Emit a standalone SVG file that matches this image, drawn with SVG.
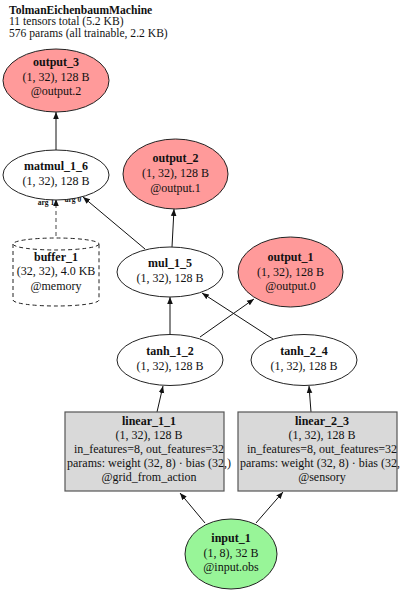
<svg xmlns="http://www.w3.org/2000/svg" width="400" height="592" viewBox="0 0 400 592">
<style>
text{font-family:"Liberation Serif","DejaVu Serif",serif;font-size:12px;fill:#111;text-anchor:middle}
.b{font-weight:bold}
.t{text-anchor:start;font-size:11.6px}
.lbl{font-size:7.5px;font-weight:bold}
.out{fill:#ff9a9a;stroke:#222;stroke-width:1}
.op{fill:#fff;stroke:#222;stroke-width:1}
.lin{fill:#d9d9d9;stroke:#555;stroke-width:1.2}
.inp{fill:#98f598;stroke:#222;stroke-width:1}
.e{stroke:#111;stroke-width:1;fill:none;marker-end:url(#ah)}
.d{stroke:#666;stroke-width:1.2;fill:none;stroke-dasharray:4,3;marker-end:url(#ah)}
</style>
<defs>
<marker id="ah" viewBox="0 0 10 10" refX="10" refY="5" markerWidth="7" markerHeight="7" markerUnits="userSpaceOnUse" orient="auto">
<path d="M0,1 L10,5 L0,9 Z" fill="#111"/>
</marker>
</defs>
<rect width="400" height="592" fill="#fff"/>
<g id="title">
<text class="t b" x="9" y="13.5">TolmanEichenbaumMachine</text>
<text class="t" x="9" y="25">11 tensors total (5.2 KB)</text>
<text class="t" x="9" y="36.5">576 params (all trainable, 2.2 KB)</text>
</g>
<g id="connectors">
<line class="e" x1="56" y1="150" x2="56" y2="112"/>
<line class="d" x1="56" y1="243" x2="56" y2="199"/>
<line class="e" x1="145" y1="249" x2="83" y2="197"/>
<line class="e" x1="172" y1="247" x2="174" y2="209"/>
<line class="e" x1="170" y1="334" x2="170" y2="297"/>
<line class="e" x1="200" y1="337" x2="254" y2="299"/>
<line class="e" x1="273" y1="339" x2="202" y2="293"/>
<line class="e" x1="157" y1="412" x2="163" y2="386"/>
<line class="e" x1="311" y1="412" x2="309" y2="386"/>
<line class="e" x1="205" y1="523" x2="180" y2="493"/>
<line class="e" x1="256" y1="523" x2="283" y2="492"/>
<text class="lbl" x="46" y="205">arg 1</text>
<text class="lbl" x="73" y="202">arg 0</text>
</g>
<g id="output_3">
<ellipse class="out" cx="56" cy="80.5" rx="53" ry="31.5"/>
<text class="b" x="56" y="66">output_3</text>
<text x="56" y="81">(1, 32), 128 B</text>
<text x="56" y="95">@output.2</text>
</g>
<g id="matmul_1_6">
<ellipse class="op" cx="56" cy="175" rx="53" ry="25"/>
<text class="b" x="56" y="170">matmul_1_6</text>
<text x="56" y="185">(1, 32), 128 B</text>
</g>
<g id="buffer_1">
<path d="M13,244 L13,300 A43,6 0 0 0 99,300 L99,244" fill="#fff" stroke="#222" stroke-dasharray="4,3"/>
<ellipse cx="56" cy="244" rx="43" ry="6" fill="#fff" stroke="#222" stroke-dasharray="4,3"/>
<text class="b" x="56" y="261">buffer_1</text>
<text x="56" y="275">(32, 32), 4.0 KB</text>
<text x="56" y="290">@memory</text>
</g>
<g id="output_2">
<ellipse class="out" cx="175.5" cy="174" rx="52.5" ry="35"/>
<text class="b" x="175.5" y="162">output_2</text>
<text x="175.5" y="177">(1, 32), 128 B</text>
<text x="175.5" y="192">@output.1</text>
</g>
<g id="mul_1_5">
<ellipse class="op" cx="170" cy="272" rx="53" ry="25"/>
<text class="b" x="170" y="267">mul_1_5</text>
<text x="170" y="282">(1, 32), 128 B</text>
</g>
<g id="output_1">
<ellipse class="out" cx="290.5" cy="272" rx="52.5" ry="35"/>
<text class="b" x="290.5" y="261">output_1</text>
<text x="290.5" y="276">(1, 32), 128 B</text>
<text x="290.5" y="290">@output.0</text>
</g>
<g id="tanh_1_2">
<ellipse class="op" cx="170" cy="360" rx="53" ry="25.5"/>
<text class="b" x="170" y="355">tanh_1_2</text>
<text x="170" y="370">(1, 32), 128 B</text>
</g>
<g id="tanh_2_4">
<ellipse class="op" cx="304" cy="360" rx="53" ry="25.5"/>
<text class="b" x="304" y="355">tanh_2_4</text>
<text x="304" y="370">(1, 32), 128 B</text>
</g>
<g id="linear_1_1">
<rect class="lin" x="65" y="412" width="159" height="79"/>
<text class="b" x="149" y="425">linear_1_1</text>
<text x="149" y="439">(1, 32), 128 B</text>
<text x="149" y="453">in_features=8, out_features=32</text>
<text x="149" y="467">params: weight (32, 8) · bias (32,)</text>
<text x="149" y="481">@grid_from_action</text>
</g>
<g id="linear_2_3">
<rect class="lin" x="238" y="412" width="159" height="79"/>
<text class="b" x="322" y="425">linear_2_3</text>
<text x="322" y="439">(1, 32), 128 B</text>
<text x="322" y="453">in_features=8, out_features=32</text>
<text x="322" y="467">params: weight (32, 8) · bias (32,)</text>
<text x="322" y="481">@sensory</text>
</g>
<g id="input_1">
<ellipse class="inp" cx="231" cy="554" rx="46" ry="35"/>
<text class="b" x="231" y="542">input_1</text>
<text x="231" y="557">(1, 8), 32 B</text>
<text x="231" y="571">@input.obs</text>
</g>
</svg>
